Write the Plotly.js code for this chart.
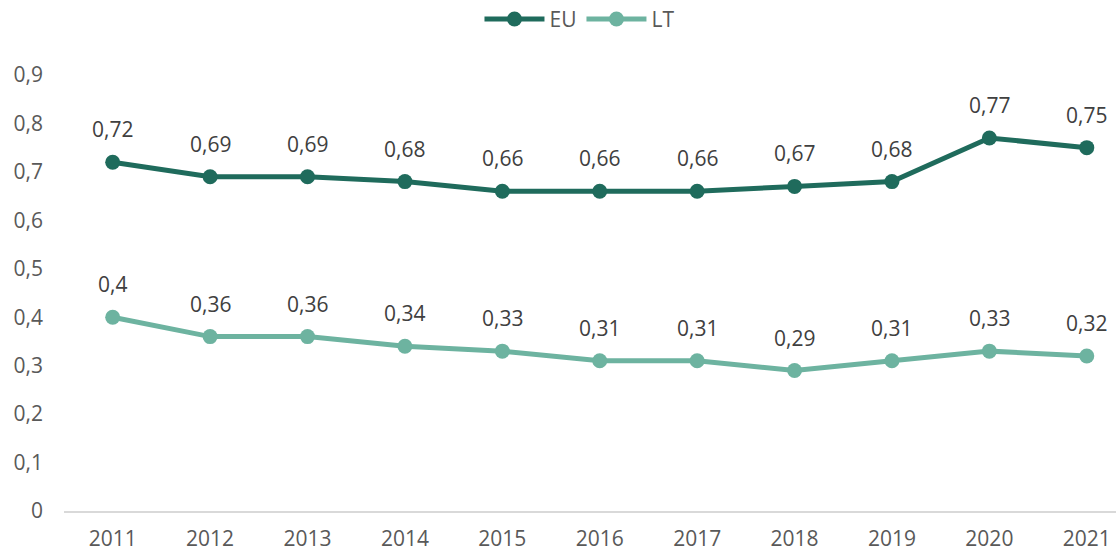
<!DOCTYPE html>
<html>
<head>
<meta charset="utf-8">
<script src="https://cdn.plot.ly/plotly-3.0.1.min.js"></script>
<style>
  html, body { margin: 0; padding: 0; background: #fff; overflow: hidden; }
  #chart { width: 1116px; height: 554px; }
</style>
</head>
<body>
<div id="chart"></div>
<script>
// metai ir reikšmės
const years = ['2011', '2012', '2013', '2014', '2015', '2016', '2017', '2018', '2019', '2020', '2021'];
const euValues = [0.72, 0.69, 0.69, 0.68, 0.66, 0.66, 0.66, 0.67, 0.68, 0.77, 0.75];
const ltValues = [0.4, 0.36, 0.36, 0.34, 0.33, 0.31, 0.31, 0.29, 0.31, 0.33, 0.32];

const euColor = '#1f6b5c';
const ltColor = '#6db3a0';
const font = 'Open Sans, Liberation Sans, sans-serif';

const fmt = v => String(v).replace('.', ',');

function series(name, values, color) {
    return {
        x: years,
        y: values,
        name: name,
        type: 'scatter',
        mode: 'lines+markers',
        line: { color: color, width: 5 },
        marker: { color: color, size: 15 },
        hoverinfo: 'skip'
    };
}

// duomenų žymės virš taškų (x kaip kategorijos indeksas)
function labels(values) {
    return values.map((v, i) => ({
        x: i,
        y: v,
        xref: 'x',
        yref: 'y',
        text: fmt(v),
        showarrow: false,
        yshift: 33,
        font: { family: font, size: 21, color: '#404040' }
    }));
}

const layout = {
    width: 1116,
    height: 554,
    margin: { t: 75, b: 43, l: 64, r: 0 },
    paper_bgcolor: '#fff',
    plot_bgcolor: '#fff',
    separators: ', ',
    font: { family: font, size: 21, color: '#595959' },
    showlegend: true,
    legend: {
        orientation: 'h',
        x: 0.49, xanchor: 'center',
        yref: 'container',
        y: 0.965, yanchor: 'middle',
        itemwidth: 60,
        font: { family: font, size: 21, color: '#595959' }
    },
    xaxis: {
        type: 'category',
        range: [-0.5, 10.3],
        showgrid: false,
        zeroline: false,
        showline: true,
        linecolor: '#d9d9d9',
        linewidth: 1.5,
        ticks: '',
        ticklabelstandoff: 8,
        tickfont: { family: font, size: 21, color: '#595959' }
    },
    yaxis: {
        range: [0, 0.9],
        dtick: 0.1,
        showgrid: false,
        zeroline: false,
        showline: false,
        ticks: '',
        ticklabelstandoff: 20,
        tickfont: { family: font, size: 21, color: '#595959' }
    },
    annotations: labels(euValues).concat(labels(ltValues))
};

Plotly.newPlot('chart',
    [series('EU', euValues, euColor), series('LT', ltValues, ltColor)],
    layout,
    { displayModeBar: false, staticPlot: true });
</script>
</body>
</html>
